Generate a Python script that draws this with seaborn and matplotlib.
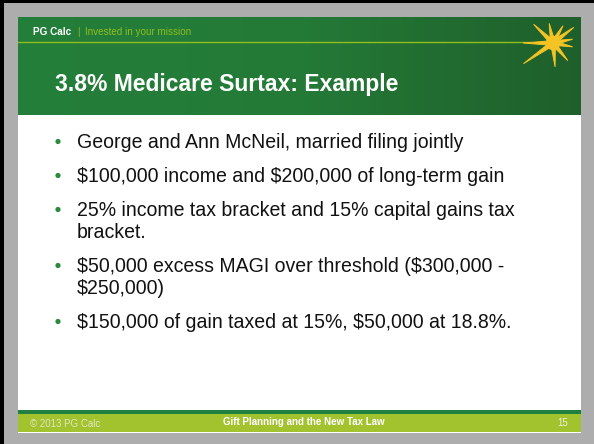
import numpy as np
import seaborn as sns
import matplotlib.pyplot as plt
from matplotlib.colors import LinearSegmentedColormap

# slide text
brand = "PG Calc"
tagline = "Invested in your mission"
title = "3.8% Medicare Surtax: Example"
bullets = [
    "George and Ann McNeil, married filing jointly",
    "$100,000 income and $200,000 of long-term gain",
    "25% income tax bracket and 15% capital gains tax\nbracket.",
    "$50,000 excess MAGI over threshold ($300,000 -\n$250,000)",
    "$150,000 of gain taxed at 15%, $50,000 at 18.8%.",
]
footer_left = "\u00a9 2013 PG Calc"
footer_mid = "Gift Planning and the New Tax Law"
page_no = "15"

sns.set_theme(style="white")
plt.rcParams['font.family'] = ['Liberation Sans', 'DejaVu Sans']

GREY = "#adadad"
DARK_GREEN = "#1f8040"
LIME = "#a2c22e"
YELLOW = "#f4c425"

fig = plt.figure(figsize=(5.94, 4.44), dpi=100)
fig.patch.set_facecolor(GREY)
ax = fig.add_axes([0, 0, 1, 1])
ax.set_xlim(0, 594)
ax.set_ylim(444, 0)
ax.axis('off')

# outer frame
ax.add_patch(plt.Rectangle((0, 0), 594, 444, facecolor=GREY, edgecolor='none', zorder=0))
ax.add_patch(plt.Rectangle((0, 0), 594, 3, facecolor='black', edgecolor='none', zorder=1))
ax.add_patch(plt.Rectangle((0, 0), 4, 444, facecolor='black', edgecolor='none', zorder=1))

L, R = 18, 581
# slide body
ax.add_patch(plt.Rectangle((L, 115), R - L, 296, facecolor='white', edgecolor='none', zorder=1))

# header gradient
cmap = LinearSegmentedColormap.from_list('hdr', ['#237f3a', '#247a37', '#1f5f2b'])
grad = np.linspace(0, 1, 256).reshape(1, -1)
ax.imshow(grad, cmap=cmap, aspect='auto', extent=(L, R, 115, 18), zorder=2)
ax.plot([L, 530], [42, 42], color='#8fbf1f', lw=1.0, zorder=3)

# sunburst logo (angle in degrees, ray length in px)
cx, cy = 553, 43
rays = [(136, 27), (101, 20), (60, 20), (37, 26), (11, 20), (-11, 20),
        (-50, 23), (-85, 24), (-145, 36), (180, 30)]
for ang, ln in rays:
    a = np.deg2rad(ang)
    ux, uy = np.cos(a), -np.sin(a)
    px, py = -uy, ux
    w = 2.4
    pts = [(cx + px * w, cy + py * w), (cx + ux * ln, cy + uy * ln), (cx - px * w, cy - py * w)]
    ax.add_patch(plt.Polygon(pts, closed=True, facecolor=YELLOW, edgecolor=YELLOW, lw=0.7, zorder=4))
ax.add_patch(plt.Circle((cx, cy), 6.5, color=YELLOW, zorder=5))

ax.text(33, 32, brand, color='white', fontsize=7.2, fontweight='bold', va='center', zorder=5)
ax.text(77, 32, "|", color='#8fbf1f', fontsize=7.2, va='center', zorder=5)
ax.text(85, 32, tagline, color='#8fbf1f', fontsize=7.1, va='center', zorder=5)
ax.text(55, 84, title, color='white', fontsize=16.5, fontweight='bold', va='center', zorder=5)

# bullets
base = 148
dot_x, dot_y = [], []
for item in bullets:
    lines = item.split("\n")
    dot_x.append(58)
    dot_y.append(base - 6.5)
    for j, line in enumerate(lines):
        ax.text(77, base + 22 * j, line, fontsize=14.05, color='#111111',
                va='baseline', parse_math=False, zorder=5)
    base += 22 * (len(lines) - 1) + 34
sns.scatterplot(x=dot_x, y=dot_y, ax=ax, color='#2a8a3e', s=14, edgecolor='none', zorder=6)

# footer
ax.add_patch(plt.Rectangle((L, 410), R - L, 4, facecolor=DARK_GREEN, edgecolor='none', zorder=2))
ax.add_patch(plt.Rectangle((L, 414), R - L, 18, facecolor=LIME, edgecolor='none', zorder=2))
ax.add_patch(plt.Rectangle((L, 432), R - L, 1, facecolor='white', edgecolor='none', zorder=2))
ax.text(30, 424, footer_left, color='#dfe9bf', fontsize=7, va='center', zorder=5)
ax.text(304, 422, footer_mid, color='white', fontsize=7, fontweight='bold', ha='center', va='center', zorder=5)
ax.text(568, 423, page_no, color='#eef3da', fontsize=7, ha='right', va='center', zorder=5)

ax.set_xlim(0, 594)
ax.set_ylim(444, 0)
fig.savefig('out.png', dpi=100, facecolor=GREY)
